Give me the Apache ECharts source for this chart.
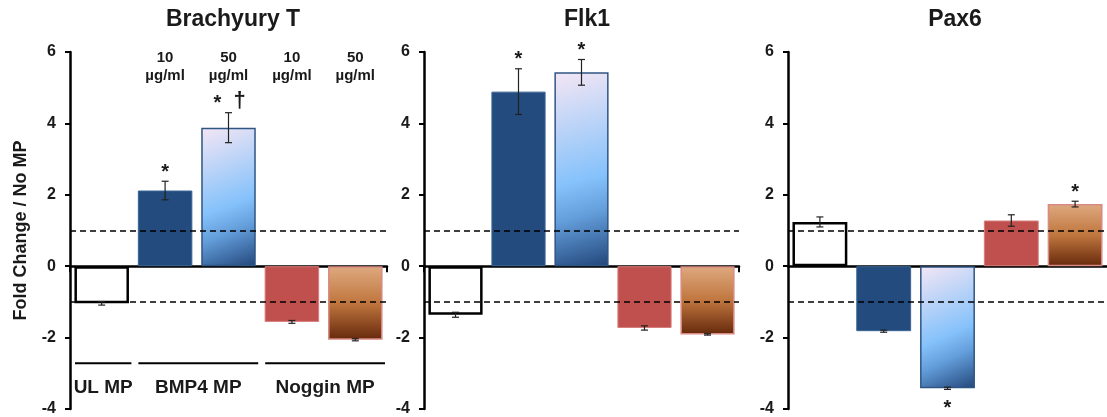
<!DOCTYPE html>
<html><head><meta charset="utf-8">
<script src="https://cdn.jsdelivr.net/npm/echarts@6/dist/echarts.min.js"></script>
<style>html,body{margin:0;padding:0;background:#fff}#c{width:1107px;height:417px}</style>
</head><body><div id="c"></div>
<script>
// ---- data ----
const categories = ['UL MP', 'BMP4 MP 10 µg/ml', 'BMP4 MP 50 µg/ml', 'Noggin MP 10 µg/ml', 'Noggin MP 50 µg/ml'];
const panelTitles = ['Brachyury T', 'Flk1', 'Pax6'];
const brachyuryValues = [-1.04, 2.12, 3.88, -1.56, -2.06];
const brachyuryErrors = [0.05, 0.26, 0.42, 0.04, 0.03];
const brachyurySig = ['', '*', '*†', '', ''];
const flk1Values = [-1.36, 4.89, 5.43, -1.73, -1.91];
const flk1Errors = [0.07, 0.64, 0.36, 0.06, 0.02];
const flk1Sig = ['', '*', '*', '', ''];
const pax6Values = [1.24, -1.82, -3.42, 1.28, 1.74];
const pax6Errors = [0.14, 0.03, 0.03, 0.16, 0.08];
const pax6Sig = ['', '', '*', '', '*'];
const yMin = -4, yMax = 6, yInterval = 2;
const thresholdLines = [1, -1];
const doseLabels = ['', '10\nµg/ml', '50\nµg/ml', '10\nµg/ml', '50\nµg/ml'];
const groupNames = ['UL MP', 'BMP4 MP', 'Noggin MP'];
const groupStart = [0, 1, 3];
const groupEnd = [0, 2, 4];
const yAxisName = 'Fold Change / No MP';

// ---- style ----
const FONT = '"Liberation Sans", Arial, sans-serif';
const TXT = '#1a1a1a';
const chart = echarts.init(document.getElementById('c'));
const G = echarts.graphic;
const blueGrad = new G.LinearGradient(0, 0, 1, 1, [
  {offset: 0, color: '#f4e6f4'},
  {offset: 0.55, color: '#86c2fb'},
  {offset: 0.72, color: '#649fdc'},
  {offset: 1, color: '#22467a'}
]);
const brownGrad = new G.LinearGradient(0, 0, 0, 1, [
  {offset: 0, color: '#dea97f'},
  {offset: 0.5, color: '#c0763e'},
  {offset: 1, color: '#66290c'}
]);
const barStyles = [
  {color: '#ffffff', borderColor: '#000000', borderWidth: 2.5},
  {color: '#234b7e', borderColor: '#3b6596', borderWidth: 1},
  {color: blueGrad, borderColor: '#2f5583', borderWidth: 1.5},
  {color: '#c0504d', borderColor: '#d77d7b', borderWidth: 1},
  {color: brownGrad, borderColor: '#d88a84', borderWidth: 1.5}
];
const grids = [
  {left: 70, width: 317, top: 52, bottom: 8},
  {left: 424, width: 315, top: 52, bottom: 8},
  {left: 788, width: 325, top: 52, bottom: 8}
];
const panels = [
  {values: brachyuryValues, errors: brachyuryErrors, sig: brachyurySig},
  {values: flk1Values, errors: flk1Errors, sig: flk1Sig},
  {values: pax6Values, errors: pax6Errors, sig: pax6Sig}
];

function errRenderer(panel) {
  return function (params, api) {
    const idx = api.value(0), v = api.value(1), e = api.value(2);
    const hi = api.coord([idx, v + e]), lo = api.coord([idx, v - e]);
    const w = 3.5;
    const st = {stroke: '#222', lineWidth: 1.2};
    const children = [
      {type: 'line', shape: {x1: hi[0], y1: hi[1], x2: lo[0], y2: lo[1]}, style: st},
      {type: 'line', shape: {x1: hi[0] - w, y1: hi[1], x2: hi[0] + w, y2: hi[1]}, style: st},
      {type: 'line', shape: {x1: lo[0] - w, y1: lo[1], x2: lo[0] + w, y2: lo[1]}, style: st}
    ];
    const s = panel.sig[params.dataIndex];
    if (s) {
      const y = v >= 0 ? hi[1] - 9 : lo[1] + 19;
      const ts = {fill: TXT, font: 'bold 20px ' + FONT, align: 'center', verticalAlign: 'middle'};
      if (s.indexOf('†') >= 0) {
        children.push({type: 'text', x: hi[0] - 11, y: y, style: Object.assign({text: '*'}, ts)});
        children.push({type: 'text', x: hi[0] + 11, y: y - 3, style: Object.assign({text: '†'}, ts, {font: 'bold 22px ' + FONT})});
      } else {
        children.push({type: 'text', x: hi[0], y: y, style: Object.assign({text: s}, ts)});
      }
    }
    return {type: 'group', children: children};
  };
}

const series = [];
panels.forEach((p, i) => {
  series.push({
    type: 'bar', xAxisIndex: i, yAxisIndex: i, barCategoryGap: '14%', z: 2, silent: true,
    data: p.values.map((v, k) => ({value: v, itemStyle: barStyles[k]}))
  });
  series.push({
    type: 'custom', xAxisIndex: i, yAxisIndex: i, z: 5, clip: false, silent: true,
    renderItem: errRenderer(p),
    encode: {x: 0, y: 1},
    data: p.values.map((v, k) => [k, v, p.errors[k]]),
    markLine: {
      silent: true, symbol: 'none', label: {show: false},
      lineStyle: {color: '#000', type: [6, 4], width: 1.6},
      data: thresholdLines.map(t => ({yAxis: t}))
    }
  });
});
// dose labels (panel 1)
series.push({
  type: 'custom', xAxisIndex: 0, yAxisIndex: 0, z: 6, clip: false, silent: true,
  encode: {x: 0},
  data: doseLabels.map((d, k) => [k]),
  renderItem: function (params, api) {
    const d = doseLabels[params.dataIndex];
    if (!d) return null;
    const c = api.coord([api.value(0), 5.58]);
    return {type: 'text', x: c[0], y: c[1], style: {text: d, fill: TXT, font: 'bold 15px ' + FONT, lineHeight: 18, align: 'center', verticalAlign: 'middle'}};
  }
});
// group labels (panel 1)
series.push({
  type: 'custom', xAxisIndex: 0, yAxisIndex: 0, z: 6, clip: false, silent: true,
  encode: {x: 0},
  data: groupNames.map((n, k) => [groupStart[k], groupEnd[k]]),
  renderItem: function (params, api) {
    const a = api.value(0), b = api.value(1);
    const cw = api.size([1, 0])[0];
    const l = api.coord([a, -2.72]), r = api.coord([b, -2.72]);
    const x1 = l[0] - cw / 2 + 5, x2 = r[0] + cw / 2 - 2;
    const t = api.coord([a, -3.4]);
    return {type: 'group', children: [
      {type: 'line', shape: {x1: x1, y1: l[1], x2: x2, y2: l[1]}, style: {stroke: '#000', lineWidth: 2}},
      {type: 'text', x: (x1 + x2) / 2, y: t[1], style: {text: groupNames[params.dataIndex], fill: TXT, font: 'bold 19px ' + FONT, align: 'center', verticalAlign: 'middle'}}
    ]};
  }
});

const option = {
  animation: false,
  backgroundColor: '#ffffff',
  title: panelTitles.map((t, i) => ({
    text: t, textAlign: 'center', top: 3,
    left: [228, 582, 950][i],
    textStyle: {color: TXT, fontFamily: FONT, fontWeight: 'bold', fontSize: 23}
  })),
  grid: grids,
  xAxis: grids.map((g, i) => ({
    gridIndex: i, type: 'category', data: categories,
    axisLine: {onZero: true, lineStyle: {color: '#000', width: 2.5}},
    axisTick: {show: i < 2, interval: function (idx) { return idx === 0; }, length: 6, lineStyle: {color: '#000', width: 2}},
    axisLabel: {show: false}, splitLine: {show: false}
  })),
  yAxis: grids.map((g, i) => ({
    gridIndex: i, type: 'value', min: yMin, max: yMax, interval: yInterval,
    axisLine: {show: true, onZero: false, lineStyle: {color: '#000', width: 2.5}},
    axisTick: {show: true, length: 5, lineStyle: {color: '#000', width: 2}},
    axisLabel: {color: TXT, fontFamily: FONT, fontWeight: 'bold', fontSize: 16, margin: 14},
    splitLine: {show: false},
    name: i === 0 ? yAxisName : '', nameLocation: 'middle', nameGap: 40,
    nameTextStyle: {color: TXT, fontFamily: FONT, fontWeight: 'bold', fontSize: 18}
  })),
  series: series
};
chart.setOption(option);
</script>
</body></html>
